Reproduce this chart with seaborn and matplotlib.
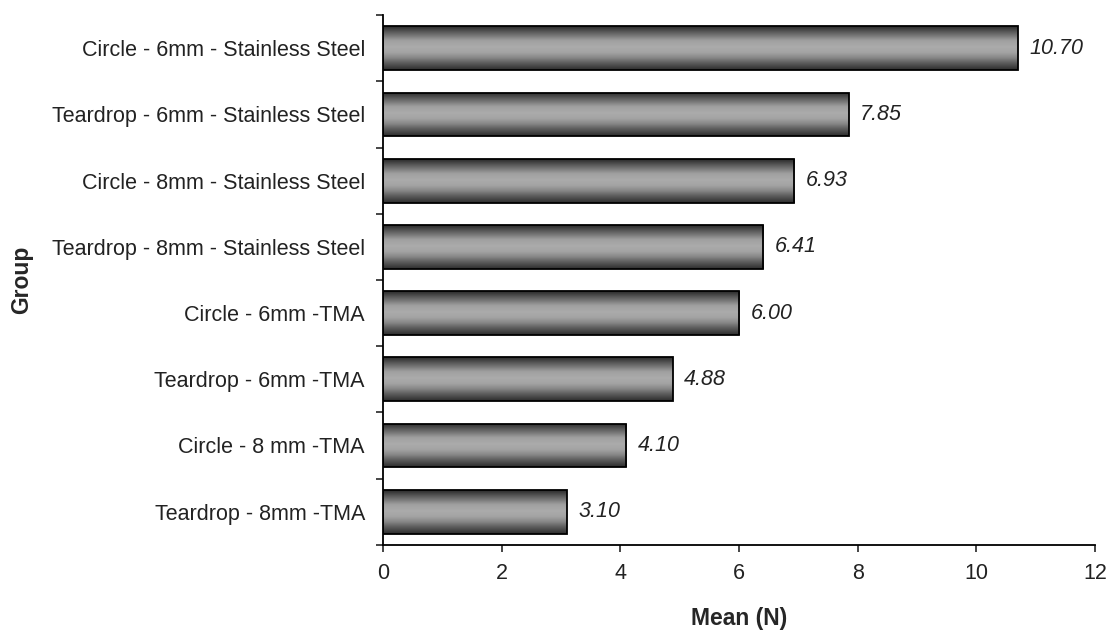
import numpy as np
import matplotlib
matplotlib.use("Agg")
import matplotlib.pyplot as plt
import seaborn as sns
from matplotlib.colors import LinearSegmentedColormap

# data
groups = [
    "Circle - 6mm - Stainless Steel",
    "Teardrop - 6mm - Stainless Steel",
    "Circle - 8mm - Stainless Steel",
    "Teardrop - 8mm - Stainless Steel",
    "Circle - 6mm -TMA",
    "Teardrop - 6mm -TMA",
    "Circle - 8 mm -TMA",
    "Teardrop - 8mm -TMA",
]
means = [10.70, 7.85, 6.93, 6.41, 6.00, 4.88, 4.10, 3.10]
x_ticks = [0, 2, 4, 6, 8, 10, 12]

sns.set_style("ticks")
plt.rcParams['font.family'] = ['Liberation Sans', 'DejaVu Sans']

fig = plt.figure(figsize=(11.08, 6.32), dpi=100)
ax = fig.add_axes([0.3457, 0.138, 0.6426, 0.838])

sns.barplot(x=means, y=groups, orient='h', color='#a0a0a0',
            edgecolor='black', linewidth=1.3, width=0.66, ax=ax)

# cylinder-like shading on each bar
cmap = LinearSegmentedColormap.from_list("cyl", [
    (0.0, "#2a2a2a"), (0.1, "#505050"), (0.22, "#7a7a7a"),
    (0.33, "#a0a0a0"), (0.47, "#ababab"), (0.6, "#a4a4a4"),
    (0.72, "#888888"), (0.86, "#585858"), (1.0, "#2e2e2e")])
grad = np.linspace(0, 1, 64).reshape(-1, 1)
for p in ax.patches:
    x0, y0 = p.get_x(), p.get_y()
    w, h = p.get_width(), p.get_height()
    im = ax.imshow(grad, cmap=cmap, extent=(x0, x0 + w, y0 + h, y0),
                   aspect='auto', zorder=2, interpolation='bilinear')
    im.set_clip_path(p)
    p.set_facecolor('none')
    p.set_zorder(3)

for i, v in enumerate(means):
    ax.text(v + 0.19, i, f"{v:.2f}", va='center', ha='left',
            fontsize=15.5, style='italic', color='#222222')

ax.set_xlim(0, 12)
ax.set_ylim(len(groups) - 0.5, -0.5)
ax.set_xticks(x_ticks)
ax.tick_params(axis='x', labelsize=15.5, length=5, width=1.2, pad=8,
               labelcolor='#222222')
ax.tick_params(axis='y', which='major', length=0, labelsize=15.5, pad=13,
               labelcolor='#222222')
ax.set_yticks(np.arange(-0.5, len(groups)), minor=True)
ax.tick_params(axis='y', which='minor', length=5, width=1.2)

ax.set_xlabel("Mean (N)", fontsize=16.5, fontweight='bold')
ax.set_ylabel("Group", fontsize=16.5, fontweight='bold')
ax.xaxis.set_label_coords(0.5, -0.118)
ax.yaxis.set_label_coords(-0.492, 0.5)

for s in ['top', 'right']:
    ax.spines[s].set_visible(False)
for s in ['left', 'bottom']:
    ax.spines[s].set_linewidth(1.3)
    ax.spines[s].set_color('black')

fig.savefig("out.png", dpi=100)
